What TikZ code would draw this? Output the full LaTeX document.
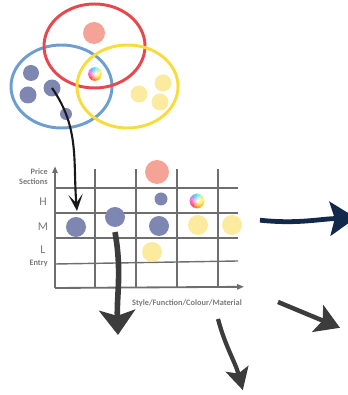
\documentclass[tikz,border=0pt]{standalone}
\usepackage{fontspec}
\setmainfont{Carlito}
\usetikzlibrary{arrows.meta,fadings}

\definecolor{setred}{HTML}{E8474D}
\definecolor{setblue}{HTML}{6C9FCE}
\definecolor{setyellow}{HTML}{F7DC3C}
\definecolor{dotblue}{HTML}{7D87B2}
\definecolor{dotyellow}{HTML}{FCEA9E}
\definecolor{dotsalmon}{HTML}{F5A396}
\definecolor{gridgray}{HTML}{6E6E6E}
\definecolor{labelgray}{HTML}{7A7A7A}
\definecolor{arrowgray}{HTML}{3C3C3C}
\definecolor{navy}{HTML}{13294B}

\tikzfading[name=whitecore, inner color=transparent!0, outer color=transparent!100]

\tikzset{
    blob/.style={circle, inner sep=0pt, minimum size=#1},
    setline/.style={line width=2.1pt},
    gridline/.style={gridgray, line width=1pt},
    lbl/.style={text=labelgray, inner sep=0pt, font=\fontsize{5.9}{7}\selectfont\bfseries},
    lvl/.style={text=labelgray, inner sep=0pt, font=\fontsize{8.5}{10}\selectfont},
    rainbow/.pic={
        \foreach \a/\c in {0/FFF176, 30/C8F5A0, 60/90EFD8, 90/5CD6FF, 120/9C9CF8, 150/E87BE6,
                           180/FF5FA8, 210/FF4B5C, 240/FF7A2E, 270/FFA31A, 300/FFC814, 330/FFE640}{
            \definecolor{rbtmp}{HTML}{\c}
            \fill[rbtmp] (0,0) -- (\a:#1) arc[start angle=\a, end angle=\a+31, radius=#1] -- cycle;
        }
        \fill[white, path fading=whitecore] (0,0) circle (0.8*#1);
    }
}

\begin{document}
\begin{tikzpicture}
    \useasboundingbox (0,0) rectangle (8.675,9.875);

    %sets
    \draw[setline, setblue] (1.5375,7.7125) ellipse (1.2625 and 1.0375);
    \draw[setline, setred] (2.3625,8.725) ellipse (1.2625 and 1.05);
    \draw[setline, setyellow] (3.1875,7.7125) ellipse (1.2625 and 1.0375);

    %set members
    \node[blob=0.55cm, fill=dotsalmon] (s1) at (2.35,9.05) {};
    \node[blob=0.4cm, fill=dotblue] (b1) at (0.775,8.05) {};
    \node[blob=0.425cm, fill=dotblue] (b2) at (0.7,7.5) {};
    \node[blob=0.425cm, fill=dotblue] (b3) at (1.3,7.675) {};
    \node[blob=0.3cm, fill=dotblue] (b4) at (1.65,7.025) {};
    \node[blob=0.425cm, fill=dotyellow] (y1) at (4.075,7.8) {};
    \node[blob=0.425cm, fill=dotyellow] (y2) at (3.475,7.525) {};
    \node[blob=0.425cm, fill=dotyellow] (y3) at (4.0,7.325) {};
    \pic at (2.375,8.025) {rainbow=0.175};

    %axes
    \draw[gridgray, line width=1.3pt, -{Triangle[length=0.17cm,width=0.13cm]}] (1.375,2.675) -- (1.375,5.72);
    \draw[gridgray, line width=1.3pt, -{Triangle[length=0.17cm,width=0.13cm]}] (1.375,2.675) -- (6.1,2.705);
    %vlines
    \foreach \x in {2.375,3.4,4.425,5.45}
        \draw[gridline] (\x,2.675) -- (\x,5.65);
    %hlines
    \draw[gridline] (1.375,5.175) -- (5.95,5.175);
    \draw[gridline] (1.375,4.55) -- (5.95,4.55);
    \draw[gridline] (1.375,3.925) -- (5.95,3.925);
    \draw[gridline] (1.375,3.275) -- (5.95,3.35);

    %axis labels
    \node[lbl, anchor=east] (price) at (1.2,5.575) {Price};
    \node[lbl, anchor=east] (sect) at (1.2,5.325) {Sections};
    \node[lvl] (hi) at (1.075,4.825) {H};
    \node[lvl] (mid) at (1.075,4.2) {M};
    \node[lvl] (lo) at (1.075,3.625) {L};
    \node[lbl, anchor=east] (entry) at (1.2,3.3) {Entry};
    \node[lbl] (xlab) at (4.675,2.3) {Style/Function/Colour/Material};

    %grid members
    \node[blob=0.6cm, fill=dotsalmon] (gs) at (3.925,5.575) {};
    \node[blob=0.325cm, fill=dotblue] (gbs) at (4.025,4.9) {};
    \node[blob=0.5cm, fill=dotblue] (gbA) at (1.9,4.2) {};
    \node[blob=0.5cm, fill=dotblue] (gbB) at (2.875,4.45) {};
    \node[blob=0.5cm, fill=dotblue] (gbC) at (3.975,4.225) {};
    \node[blob=0.5cm, fill=dotyellow] (gyA) at (4.95,4.25) {};
    \node[blob=0.5cm, fill=dotyellow] (gyB) at (5.8,4.25) {};
    \node[blob=0.5cm, fill=dotyellow] (gyC) at (3.8,3.575) {};
    \pic at (4.925,4.85) {rainbow=0.1875};

    %arrow ends
    \coordinate (tipA) at (1.925,4.6);
    \coordinate (downA) at (2.95,1.5);
    \coordinate (navyS) at (6.5,4.37);
    \coordinate (navyE) at (8.9,4.43);
    \coordinate (rightS) at (6.95,2.325);
    \coordinate (rightE) at (8.5,1.68);
    \coordinate (lowS) at (5.45,1.9);
    \coordinate (lowE) at (6.07,0.12);

    %arrows
    \draw[black!90, line width=1.5pt, -{Stealth[length=0.42cm,width=0.36cm,inset=0.22cm]}]
        (b3.center) to[out=-55,in=95] (tipA);
    \draw[arrowgray, line width=4pt, -{Stealth[length=0.62cm,width=0.9cm,inset=0.14cm]}]
        ([yshift=-0.12cm]gbB.south) to[out=-80,in=92] (downA);
    \draw[navy, line width=3.4pt, -{Stealth[length=0.65cm,width=0.85cm,inset=0.12cm]}]
        (navyS) to[out=-6,in=182] (navyE);
    \draw[arrowgray, line width=3.2pt, -{Stealth[length=0.6cm,width=0.72cm,inset=0.13cm]}]
        (rightS) -- (rightE);
    \draw[arrowgray, line width=3pt, -{Stealth[length=0.55cm,width=0.58cm,inset=0.12cm]}]
        (lowS) to[out=-75,in=105] (lowE);
\end{tikzpicture}
\end{document}
